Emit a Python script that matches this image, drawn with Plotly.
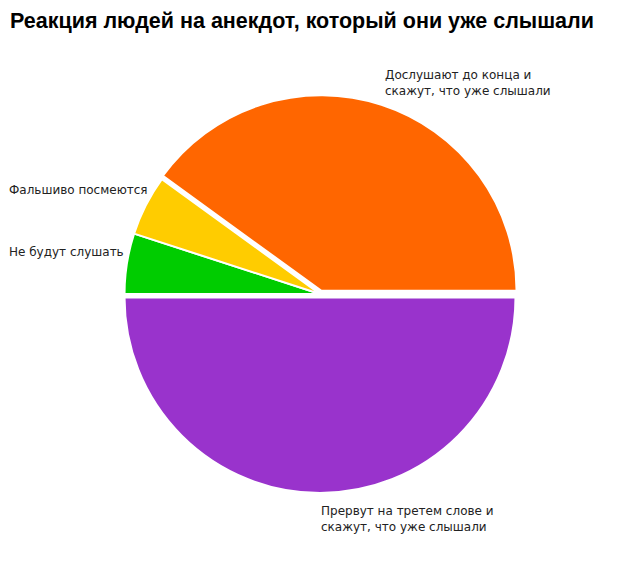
import plotly.graph_objects as go

# Данные круговой диаграммы (порядок по часовой стрелке от 3 часов)
labels = [
    'Прервут на третем слове и<br>скажут, что уже слышали',
    'Не будут слушать',
    'Фальшиво посмеются',
    'Дослушают до конца и<br>скажут, что уже слышали',
]
values = [50, 5, 5, 40]
colors = ['#9933CC', '#00CC00', '#FFCC00', '#FF6600']

W, H = 640, 565
OFF = 8  # отступ страницы браузера

# Круг: центр (320, 294), радиус ~199 с учётом выдвижения
cx, cy, r = 320 - OFF, 294 - OFF, 199
dom_x = [(cx - r) / W, (cx + r) / W]
dom_y = [(H - cy - r) / H, (H - cy + r) / H]

fig = go.Figure(go.Pie(
    labels=labels,
    values=values,
    sort=False,
    direction='clockwise',
    rotation=90,
    pull=[0.018, 0, 0, 0.018],
    marker=dict(colors=colors, line=dict(color='white', width=2)),
    textinfo='none',
    hoverinfo='label+percent',
    domain=dict(x=dom_x, y=dom_y),
))

# Подписи секторов (позиции в пикселях); левые не выходят за край
label_pos = [(322, 518.5), (7, 252), (3, 190), (386, 83.5)]
for lab, (px_, py_) in zip(labels, label_pos):
    fig.add_annotation(
        text=lab,
        x=max(px_ - OFF - 2, 0) / W, y=(H - py_ + OFF) / H,
        xref='paper', yref='paper',
        xanchor='left', yanchor='middle',
        align='left',
        showarrow=False,
        borderpad=0,
        font=dict(family='DejaVu Sans', size=12, color='#222222'),
    )

fig.update_layout(
    title=dict(
        text='<b>Реакция людей на анекдот, который они уже слышали</b>',
        x=(10 - OFF) / W, xanchor='left',
        y=1 - (20 - OFF) / H, yanchor='middle',
        font=dict(family='Liberation Sans', size=21.5, color='#000000'),
    ),
    width=W, height=H,
    margin=dict(l=0, r=0, t=0, b=0),
    showlegend=False,
    paper_bgcolor='white',
    plot_bgcolor='white',
)

fig.write_html('out.html')
